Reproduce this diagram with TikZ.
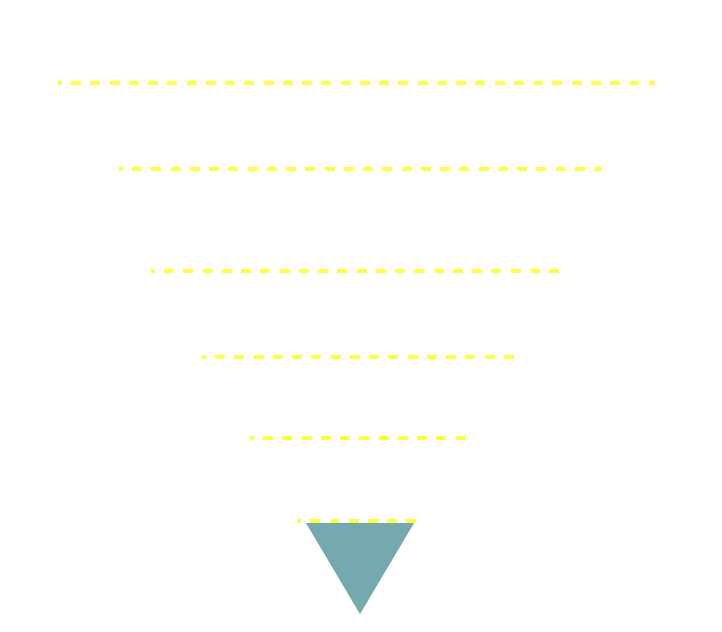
\documentclass[tikz,border=0pt]{standalone}
\usepackage{tikz}
\usetikzlibrary{positioning}
\usepackage{xcolor}
\definecolor{funnelyellow}{RGB}{255,255,60}
\definecolor{funnelteal}{RGB}{118,169,174}

\begin{document}
\begin{tikzpicture}[
		x=0.02cm, y=-0.02cm,
		sep/.style={
			draw=funnelyellow,
			line width=0.08cm,
			dash pattern=on 0.2cm off 0.185cm,
			dash phase=0.12cm
		},
		tip/.style={
			fill=funnelteal,
			draw=none
		}
		]
		\useasboundingbox (0,0) rectangle (722,631);
		
		% layer lines
		\coordinate (l1a) at (58,83);   \coordinate (l1b) at (655,83);
		\coordinate (l2a) at (119,169); \coordinate (l2b) at (602,169);
		\coordinate (l3a) at (151,271); \coordinate (l3b) at (566,271);
		\coordinate (l4a) at (202,357); \coordinate (l4b) at (519,357);
		\coordinate (l5a) at (250,438); \coordinate (l5b) at (469,438);
		\coordinate (l6a) at (297,521); \coordinate (l6b) at (420,521);
		%--
		\draw[sep] (l1a) -- (l1b);
		\draw[sep] (l2a) -- (l2b);
		\draw[sep] (l3a) -- (l3b);
		\draw[sep] (l4a) -- (l4b);
		\draw[sep] (l5a) -- (l5b);
		\draw[sep] (l6a) -- (l6b);
		
		% bottom tip
		\coordinate (tl) at (306,523);
		\coordinate (tr) at (414,523);
		\coordinate (tb) at (360,614);
		\fill[tip] (tl) -- (tr) -- (tb) -- cycle;
		
	\end{tikzpicture}
\end{document}
